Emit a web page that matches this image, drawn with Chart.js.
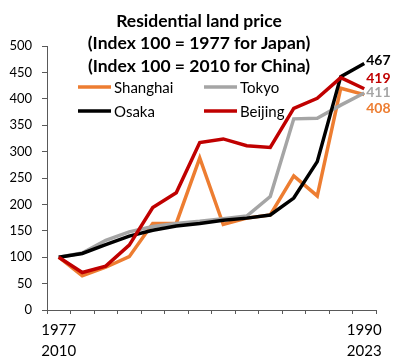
<!DOCTYPE html>
<html lang="en">
<head>
    <meta charset="UTF-8">
    <title>Residential land price</title>
    <style>
        html, body {
            margin: 0;
            padding: 0;
            background: #fff;
        }

        .container {
            width: 398px;
            height: 364px;
        }
    </style>
</head>
<body>
    <div class="container">
        <canvas id="landChart" width="398" height="364"></canvas>
    </div>

    <script src="https://cdn.jsdelivr.net/npm/chart.js"></script>
    <script>
        // years: Japan 1977-1990, China 2010-2023 (only ends are labelled)
        const categories = [
            ['1977', '2010'], '', '', '', '', '', '', '', '', '', '', '', '', ['1990', '2023']
        ];
        const titleLines = ['Residential land price', '(Index 100 = 1977 for Japan)', '(Index 100 = 2010 for China)'];

        const seriesNames = ['Shanghai', 'Tokyo', 'Osaka', 'Beijing'];
        const shanghai = [100, 65, 81, 101, 164, 164, 288, 162, 174, 180, 254, 216, 420, 408];
        const tokyo    = [100, 108, 132, 148, 158, 164, 168, 173, 178, 215, 362, 363, 388, 411];
        const osaka    = [100, 107, 124, 140, 151, 159, 164, 170, 174, 180, 212, 281, 442, 467];
        const beijing  = [100, 71, 83, 123, 194, 222, 317, 324, 311, 308, 382, 401, 440, 419];

        const yTicks = { min: 0, max: 500, step: 50 };

        const colors = ['#ED7D31', '#A5A5A5', '#000000', '#C00000'];
        const endLabelShift = [14, -1, -3, -10];   // pixel nudge of the end value labels
        const FONT = 'Lato, "Open Sans", sans-serif';

        const seriesData = [shanghai, tokyo, osaka, beijing];

        // title, legend and end values, drawn on top of the chart
        const annotations = {
            id: 'annotations',
            afterDatasetsDraw(chart) {
                const ctx = chart.ctx;
                const x = chart.scales.x;
                const y = chart.scales.y;
                ctx.save();

                // title
                ctx.fillStyle = '#000';
                ctx.font = 'bold 17.5px ' + FONT;
                ctx.textAlign = 'center';
                ctx.textBaseline = 'middle';
                titleLines.forEach((t, i) => ctx.fillText(t, 199, 21 + i * 22.5));

                // legend, two columns
                ctx.font = '15px ' + FONT;
                ctx.textAlign = 'left';
                seriesNames.forEach((name, i) => {
                    const lx = i % 2 === 0 ? 78 : 204;
                    const ly = i < 2 ? 87 : 111;
                    ctx.strokeStyle = colors[i];
                    ctx.lineWidth = 3.5;
                    ctx.beginPath();
                    ctx.moveTo(lx, ly);
                    ctx.lineTo(lx + 33, ly);
                    ctx.stroke();
                    ctx.fillStyle = '#000';
                    ctx.fillText(name, lx + 36, ly + 1);
                });

                // last values
                ctx.font = 'bold 14px ' + FONT;
                seriesData.forEach((arr, i) => {
                    const last = arr.length - 1;
                    const px = x.getPixelForValue(last) + 2;
                    const py = y.getPixelForValue(arr[last]) + endLabelShift[i];
                    ctx.fillStyle = colors[i];
                    ctx.fillText(String(arr[last]), px, py);
                });

                ctx.restore();
            }
        };

        const landChart = new Chart(document.getElementById('landChart').getContext('2d'), {
            type: 'line',
            data: {
                labels: categories,
                datasets: seriesData.map((arr, i) => ({
                    label: seriesNames[i],
                    data: arr,
                    borderColor: colors[i],
                    backgroundColor: colors[i],
                    borderWidth: 3.5,
                    pointRadius: 0,
                    tension: 0,
                    fill: false,
                    order: [3, 2, 1, 0][i]
                }))
            },
            options: {
                responsive: false,
                animation: false,
                devicePixelRatio: 1,
                layout: { padding: { top: 46, right: 22, left: 0, bottom: 0 } },
                plugins: {
                    legend: { display: false },
                    tooltip: { enabled: false },
                    title: { display: false }
                },
                scales: {
                    x: {
                        offset: true,
                        afterFit: s => { s.height = 54; },
                        border: { color: '#595959', width: 1 },
                        grid: {
                            offset: true,
                            drawOnChartArea: false,
                            drawTicks: true,
                            tickLength: 4,
                            color: '#595959'
                        },
                        ticks: {
                            autoSkip: false,
                            maxRotation: 0,
                            padding: 6,
                            color: '#000',
                            font: { family: FONT, size: 15, lineHeight: 1.4 }
                        }
                    },
                    y: {
                        min: yTicks.min,
                        max: yTicks.max,
                        afterFit: s => { s.width = 47; },
                        border: { color: '#595959', width: 1 },
                        grid: {
                            drawOnChartArea: false,
                            drawTicks: true,
                            tickLength: 5,
                            color: '#595959'
                        },
                        ticks: {
                            stepSize: yTicks.step,
                            padding: 10,
                            color: '#000',
                            font: { family: FONT, size: 13 }
                        }
                    }
                }
            },
            plugins: [annotations]
        });
    </script>
</body>
</html>
